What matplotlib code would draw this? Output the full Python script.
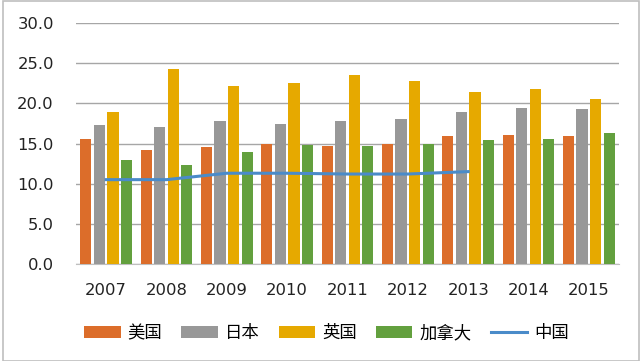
import matplotlib
matplotlib.use("Agg")
import matplotlib.pyplot as plt
from matplotlib.patches import Rectangle
import numpy as np

plt.rcParams['font.family'] = ['Noto Sans CJK SC', 'DejaVu Sans']

years = ['2007', '2008', '2009', '2010', '2011', '2012', '2013', '2014', '2015']
usa = [15.5, 14.2, 14.6, 14.9, 14.7, 15.0, 15.9, 16.1, 15.9]
japan = [17.3, 17.0, 17.8, 17.4, 17.8, 18.1, 18.9, 19.4, 19.3]
uk = [18.9, 24.3, 22.1, 22.5, 23.5, 22.8, 21.4, 21.8, 20.5]
canada = [12.9, 12.3, 13.9, 14.8, 14.7, 15.0, 15.4, 15.6, 16.3]
china = [10.5, 10.5, 11.3, 11.3, 11.2, 11.2, 11.5]
names = ['美国', '日本', '英国', '加拿大', '中国']
yticks = [0, 5, 10, 15, 20, 25, 30]

colors = ['#DC6D2A', '#989898', '#E6A900', '#63A03E']
line_color = '#4A8BC9'

fig = plt.figure(figsize=(6.4, 3.61), dpi=100)
ax = fig.add_axes([76/640, 1-264/361, 543/640, 241/361])

x = np.arange(len(years))
w = 0.185
step = 0.224
series = [usa, japan, uk, canada]
handles = []
for i, (s, c) in enumerate(zip(series, colors)):
    b = ax.bar(x + (i - 1.5) * step, s, width=w, color=c, zorder=3, label=names[i])
    handles.append(b)
ln, = ax.plot(x[:len(china)], china, color=line_color, lw=2.2, zorder=4, label=names[4])
handles.append(ln)

ax.set_xlim(-0.5, len(years) - 0.5)
ax.set_ylim(0, 30)
ax.set_yticks(yticks)
ax.set_yticklabels([f'{v:.1f}' for v in yticks])
ax.set_xticks(x)
ax.set_xticklabels(years)
ax.yaxis.grid(True, color='#A6A6A6', lw=1.0, zorder=0)
ax.set_axisbelow(True)
for sp in ['top', 'right', 'left']:
    ax.spines[sp].set_visible(False)
ax.spines['bottom'].set_color('#BFBFBF')
ax.tick_params(axis='both', length=0, labelsize=11.8, colors='#222222')
ax.tick_params(axis='y', pad=16)
ax.tick_params(axis='x', pad=14)
for t in ax.get_xticklabels() + ax.get_yticklabels():
    t.set_family(['DejaVu Sans'])

leg = fig.legend(handles=handles, labels=names, ncol=5, frameon=False,
                 loc='center', bbox_to_anchor=(0.51, 1 - 333/361),
                 fontsize=12.5, handlelength=2.1, handleheight=0.65,
                 columnspacing=1.1, handletextpad=0.4)

fig.patches.append(Rectangle((3/640, 0), 1 - 4/640, 1 - 1/361, transform=fig.transFigure,
                             fill=False, edgecolor='#BFBFBF', lw=1.2))

fig.savefig('out.png', dpi=100)
